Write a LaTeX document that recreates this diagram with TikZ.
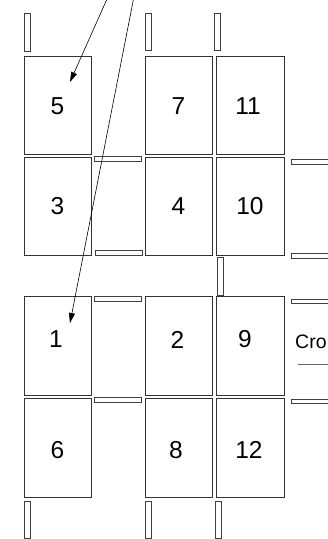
\documentclass[tikz,border=0pt]{standalone}
\usepackage{fontspec}
\setmainfont{Liberation Sans}
\usetikzlibrary{arrows.meta}
\begin{document}
\begin{tikzpicture}[x=1pt,y=-1pt,
  cell/.style={draw=black!80,line width=0.9pt,minimum width=67pt,minimum height=98pt,inner sep=0pt},
  num/.style={font=\fontsize{24.5}{24.5}\selectfont,inner sep=0pt},
  bar/.style={draw=black!75,line width=0.85pt,fill=white},
  arr/.style={draw=black,line width=0.6pt,-{Triangle[length=10pt,width=6pt]}}]
\useasboundingbox (0,0) rectangle (328,539);
\clip (0,0) rectangle (328,539);
% boxes
\node[cell] (b5) at (57.5,105) {};
\node[cell] (b7) at (178.5,105) {};
\node[cell,minimum width=68pt] (b11) at (250,105) {};
\node[cell] (b3) at (57.5,206) {};
\node[cell] (b4) at (178.5,206) {};
\node[cell,minimum width=68pt] (b10) at (250,206) {};
\node[cell,minimum height=99pt] (b1) at (57.5,345.5) {};
\node[cell,minimum height=99pt] (b2) at (178.5,345.5) {};
\node[cell,minimum width=68pt,minimum height=99pt] (b9) at (250,345.5) {};
\node[cell,minimum height=99pt] (b6) at (57.5,447.5) {};
\node[cell,minimum height=99pt] (b8) at (178.5,447.5) {};
\node[cell,minimum width=68pt,minimum height=99pt] (b12) at (250,447.5) {};
% numbers
\node[num] (t5) at (57.5,106) {5};
\node[num] (t7) at (178.5,106) {7};
\node[num] (t11) at (248,106) {11};
\node[num] (t3) at (57.5,206.5) {3};
\node[num] (t4) at (178.5,206.5) {4};
\node[num] (t10) at (250,206.5) {10};
\node[num] (t1) at (56,339.5) {1};
\node[num] (t2) at (177.5,339.5) {2};
\node[num] (t9) at (245,339.5) {9};
\node[num] (t6) at (57.5,450) {6};
\node[num] (t8) at (176,450) {8};
\node[num] (t12) at (249,450) {12};
% vertical bars
\draw[bar] (24,13) rectangle (30,51);
\draw[bar] (145,13) rectangle (151,50);
\draw[bar] (214,13) rectangle (220,50);
\draw[bar] (217.5,257) rectangle (223,295);
\draw[bar] (24,501) rectangle (30,538);
\draw[bar] (145,501) rectangle (151,538);
\draw[bar] (215,501) rectangle (221,538);
% horizontal bars in gap
\draw[bar] (94,156) rectangle (141,161);
\draw[bar] (95,250) rectangle (142,255);
\draw[bar] (94,296) rectangle (141,301);
\draw[bar] (94,397.5) rectangle (141,402.5);
% horizontal bars at right
\draw[bar] (291,159) rectangle (335,164);
\draw[bar] (291,253) rectangle (335,258);
\draw[bar] (291,299) rectangle (335,303.5);
\draw[bar] (291,399) rectangle (335,403.5);
% clipped label
\node[font=\fontsize{19.5}{19.5}\selectfont,anchor=west,inner sep=0pt] (cro) at (295,342) {Cro};
\draw[black!60,line width=0.7pt] (297.5,364.5) -- (330,364.5);
% arrows
\coordinate (a1s) at (107,-1);
\coordinate (a1e) at (70,82);
\coordinate (a2s) at (133.5,-1);
\coordinate (a2e) at (70,323);
\draw[arr] (a1s) -- (a1e);
\draw[arr] (a2s) -- (a2e);
\end{tikzpicture}
\end{document}
